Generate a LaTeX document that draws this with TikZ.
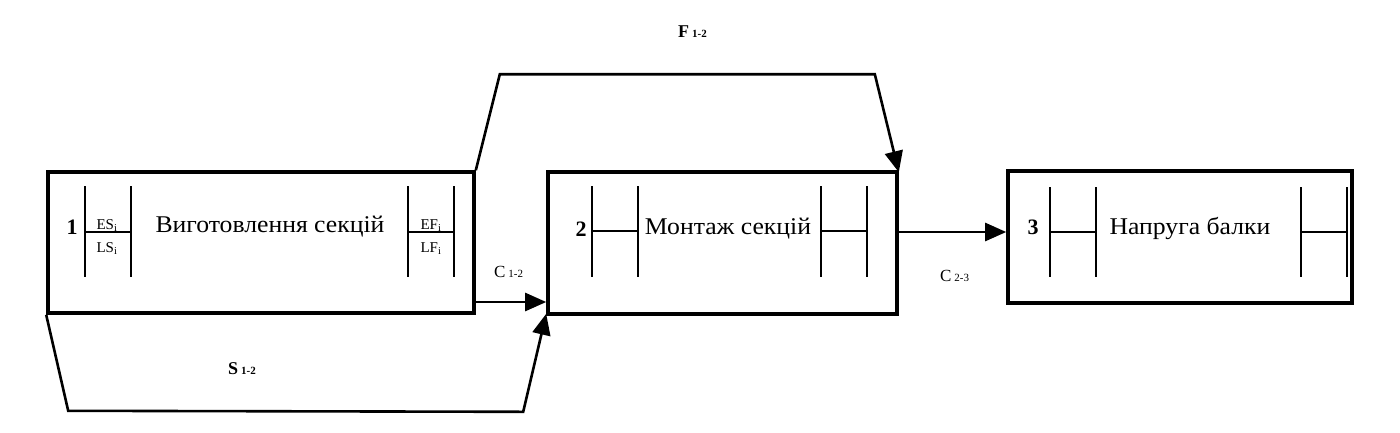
\documentclass[tikz,border=0pt]{standalone}
\usepackage{fontspec}
\setmainfont{Liberation Serif}
\usetikzlibrary{arrows.meta}
\tikzset{
  box/.style={draw, line width=3.6pt, rectangle, inner sep=0pt},
  tick/.style={line width=2.6pt},
  conn/.style={line width=2.6pt, line join=miter},
  arr/.style={conn, -{Triangle[length=21pt,width=18pt]}},
  title/.style={font=\fontsize{24}{28}\selectfont, inner sep=0pt},
  num/.style={font=\fontsize{22}{24}\selectfont\bfseries, inner sep=0pt},
  tiny/.style={font=\fontsize{15}{17}\selectfont, inner sep=0pt},
  lab/.style={font=\fontsize{17}{19}\selectfont, inner sep=0pt},
  blab/.style={font=\fontsize{18}{20}\selectfont\bfseries, inner sep=0pt}
}
\newcommand{\sbx}[1]{{\fontsize{11}{12}\selectfont #1}}
\begin{document}
\begin{tikzpicture}[x=1pt,y=-1pt]
\useasboundingbox (0,0) rectangle (1400,432);
% boxes
\node[box, minimum width=426pt, minimum height=141pt] (b1) at (261,242.5) {};
\node[box, minimum width=349pt, minimum height=142pt] (b2) at (722.5,243) {};
\node[box, minimum width=344pt, minimum height=132pt] (b3) at (1180,237) {};
% box 1 content
\draw[tick] (85,186) -- (85,277) (131,186) -- (131,277) (85,232) -- (131,232);
\draw[tick] (408,186) -- (408,277) (454,186) -- (454,277) (408,232) -- (454,232);
\node[num] (n1) at (72,227) {1};
\node[tiny, anchor=base] (es) at (107,229) {ES\textsubscript{i}};
\node[tiny, anchor=base] (ls) at (107,252) {LS\textsubscript{i}};
\node[tiny, anchor=base] (ef) at (431,229) {EF\textsubscript{i}};
\node[tiny, anchor=base] (lf) at (431,252) {LF\textsubscript{i}};
\node[title] (t1) at (270,227) {\scalebox{1.07}[1]{Виготовлення секцій}};
% box 2 content
\draw[tick] (592,186) -- (592,277) (638,186) -- (638,277) (592,231) -- (638,231);
\draw[tick] (821,186) -- (821,277) (867,186) -- (867,277) (821,231) -- (867,231);
\node[num] (n2) at (581,229) {2};
\node[title] (t2) at (728,229) {\scalebox{1.07}[1]{Монтаж секцій}};
% box 3 content
\draw[tick] (1050,187) -- (1050,277) (1096,187) -- (1096,277) (1050,232) -- (1096,232);
\draw[tick] (1301,187) -- (1301,277) (1347,187) -- (1347,277) (1301,232) -- (1347,232);
\node[num] (n3) at (1033,227) {3};
\node[title] (t3) at (1190,228) {\scalebox{1.07}[1]{Напруга балки}};
% connectors
\draw[arr] (b1.north east) -- ([shift={(24,-96)}]b1.north east) -- ([shift={(-24,-96)}]b2.north east) -- ([yshift=-2pt]b2.north east);
\draw[arr] (b1.east |- 0,302) -- (b2.west |- 0,302);
\draw[arr] (b2.east |- 0,232) -- (b3.west |- 0,232);
\draw[arr] (b1.south west) -- ([shift={(22,96)}]b1.south west) -- ([shift={(-23,96)}]b2.south west) -- ([yshift=2pt]b2.south west);
% labels
\node[blab, anchor=base west] (f12) at (678,37) {F\,\sbx{1-2}};
\node[lab, anchor=base west] (c12) at (494,277) {C\,\sbx{1-2}};
\node[lab, anchor=base west] (c23) at (940,281) {C\,\sbx{2-3}};
\node[blab, anchor=base west] (s12) at (228,374) {S\,\sbx{1-2}};
\end{tikzpicture}
\end{document}
